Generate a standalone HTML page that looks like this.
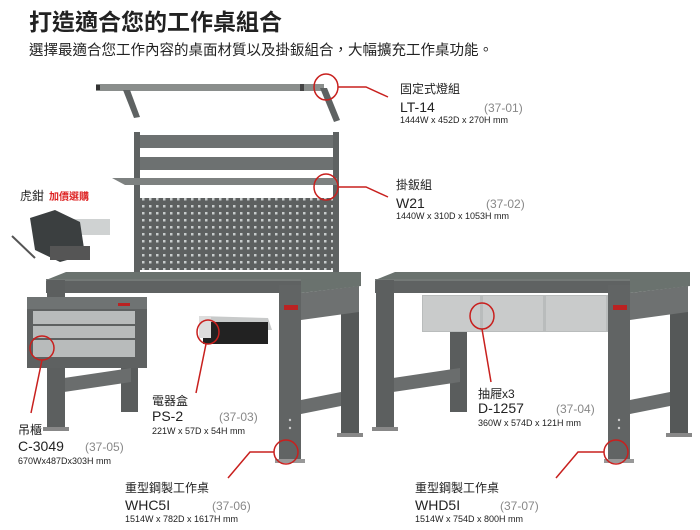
<!DOCTYPE html>
<html><head><meta charset="utf-8"><style>
html,body{margin:0;padding:0;background:#fff;width:700px;height:530px;overflow:hidden}
svg{display:block}
text{font-family:"Liberation Sans","Noto Sans CJK TC",sans-serif;fill:#222}
</style></head><body>
<svg width="700" height="530" viewBox="0 0 700 530" xmlns="http://www.w3.org/2000/svg">
<defs>
<pattern id="holes" x="0" y="0" width="7" height="7" patternUnits="userSpaceOnUse">
<rect width="7" height="7" fill="#5d6060"/><rect x="2" y="2" width="2.5" height="2.5" fill="#c8cccc"/>
</pattern>
<g id="bench">
 <!-- back right leg -->
 <rect x="670" y="300" width="18" height="137" fill="#555858"/>
 <rect x="666" y="433" width="26" height="4" fill="#888"/>
 <!-- back left leg -->
 <rect x="450" y="318" width="17" height="94" fill="#5a5d5d"/>
 <!-- stretchers -->
 <polygon points="393,378 460,368 460,382 393,392" fill="#6a6d6d"/>
 <polygon points="630,400 670,392 670,406 630,414" fill="#6a6d6d"/>
 <!-- side beam -->
 <polygon points="630,293 688,286 688,312 630,320" fill="#6e7171"/>
 <!-- top surface -->
 <polygon points="375,280 395,272 690,272 690,286 630,293 375,293" fill="#6a726e"/>
 <rect x="375" y="279" width="255" height="14" fill="#5f6262"/>
 <line x1="375" y1="280" x2="630" y2="280" stroke="#8a908c" stroke-width="1"/>
 <!-- front legs -->
 <rect x="376" y="280" width="18" height="150" fill="#5c5f5f"/>
 <rect x="372" y="427" width="26" height="4" fill="#888"/>
 <rect x="608" y="285" width="22" height="177" fill="#616464"/>
 <rect x="604" y="459" width="30" height="4" fill="#999"/>
 <rect x="613" y="305" width="14" height="5" fill="#b22"/>
 <circle cx="619" cy="420" r="1.2" fill="#ccc"/><circle cx="619" cy="428" r="1.2" fill="#ccc"/>
</g>
</defs>

<text x="29" y="30" font-size="23" font-weight="bold" fill="#222">打造適合您的工作桌組合</text>
<text x="29" y="55" font-size="14.5" fill="#333">選擇最適合您工作內容的桌面材質以及掛鈑組合，大幅擴充工作桌功能。</text>

<!-- light bar -->
<rect x="96" y="84" width="228" height="7" fill="#8a8e8c"/>
<rect x="96" y="85" width="4" height="5" fill="#333"/>
<rect x="300" y="84" width="4" height="7" fill="#444"/>
<polygon points="123,90 130,90 140,117 134,118" fill="#5e6262"/>
<polygon points="320,88 327,88 340,120 334,122" fill="#5e6262"/>

<!-- pegboard frame -->
<rect x="134" y="132" width="6" height="143" fill="#5e6262"/>
<rect x="333" y="132" width="6" height="143" fill="#5e6262"/>
<rect x="140" y="135" width="193" height="13" fill="#6d7171"/>
<rect x="140" y="157" width="193" height="13" fill="#6d7171"/>
<polygon points="112,178 337,178 337,185 125,185" fill="#7d8180"/>
<rect x="140" y="198" width="193" height="72" fill="url(#holes)"/>

<!-- left bench -->
<g transform="translate(-329,0)"><use href="#bench"/></g>
<!-- right bench -->
<use href="#bench"/>
<!-- drawers -->
<rect x="422" y="295" width="186" height="37" fill="#b9bcbc"/>
<rect x="423" y="296" width="57" height="35" fill="#c9cbcb"/>
<rect x="483" y="296" width="60" height="35" fill="#c9cbcb"/>
<rect x="546" y="296" width="60" height="35" fill="#c9cbcb"/>

<!-- cabinet -->
<rect x="27" y="297" width="120" height="71" fill="#5e6161"/>
<rect x="27" y="297" width="120" height="12" fill="#6f7373"/>
<rect x="33" y="311" width="102" height="13" fill="#b8bbbb"/>
<rect x="33" y="326" width="102" height="12" fill="#b8bbbb"/>
<rect x="33" y="340" width="102" height="17" fill="#b8bbbb"/>
<rect x="118" y="303" width="12" height="3" fill="#b22"/>

<!-- power strip -->
<polygon points="199,316 268,318 272,330 203,330" fill="#c8caca"/>
<rect x="203" y="322" width="65" height="22" fill="#222"/>
<rect x="199" y="316" width="12" height="22" fill="#ddd"/>

<!-- vise -->
<g>
<rect x="72" y="219" width="38" height="16" fill="#cfd2d2"/>
<polygon points="30,218 55,210 80,222 85,255 60,262 35,250" fill="#3b3f40"/>
<rect x="50" y="246" width="40" height="14" fill="#555"/>
<line x1="12" y1="236" x2="35" y2="258" stroke="#555" stroke-width="2"/>
</g>
<text x="20" y="200" font-size="12">虎鉗</text>
<text x="49" y="200" font-size="10" font-weight="bold" fill="#d22" style="fill:#d22">加價選購</text>

<!-- red callouts -->
<g fill="none" stroke="#c8201e" stroke-width="1.5">
<ellipse cx="326" cy="87" rx="12" ry="13"/><polyline points="338,87 366,87 388,97"/>
<ellipse cx="326" cy="187" rx="12" ry="13"/><polyline points="338,187 366,187 388,197"/>
<ellipse cx="42" cy="348" rx="12" ry="12"/><polyline points="42,360 31,413"/>
<ellipse cx="208" cy="332" rx="11" ry="12"/><polyline points="206,344 196,393"/>
<ellipse cx="482" cy="316" rx="12" ry="13"/><polyline points="482,329 491,382"/>
<ellipse cx="286" cy="452" rx="12" ry="12"/><polyline points="274,452 250,452 228,478"/>
<ellipse cx="616" cy="452" rx="12" ry="12"/><polyline points="604,452 578,452 556,478"/>
</g>

<!-- labels -->
<g font-size="12">
<text x="400" y="93">固定式燈組</text>
<text x="400" y="112" font-size="14">LT-14</text>
<text x="484" y="112" font-size="12" style="fill:#888">(37-01)</text>
<text x="400" y="123" font-size="9">1444W x 452D x 270H mm</text>

<text x="396" y="189">掛鈑組</text>
<text x="396" y="208" font-size="14">W21</text>
<text x="486" y="208" style="fill:#888">(37-02)</text>
<text x="396" y="219" font-size="9">1440W x 310D x 1053H mm</text>

<text x="18" y="434">吊櫃</text>
<text x="18" y="451" font-size="14">C-3049</text>
<text x="85" y="451" style="fill:#888">(37-05)</text>
<text x="18" y="464" font-size="9">670Wx487Dx303H mm</text>

<text x="152" y="405">電器盒</text>
<text x="152" y="421" font-size="14">PS-2</text>
<text x="219" y="421" style="fill:#888">(37-03)</text>
<text x="152" y="434" font-size="9">221W x 57D x 54H mm</text>

<text x="478" y="398">抽屜x3</text>
<text x="478" y="413" font-size="14">D-1257</text>
<text x="556" y="413" style="fill:#888">(37-04)</text>
<text x="478" y="426" font-size="9">360W x 574D x 121H mm</text>

<text x="125" y="492">重型鋼製工作桌</text>
<text x="125" y="510" font-size="14">WHC5I</text>
<text x="212" y="510" style="fill:#888">(37-06)</text>
<text x="125" y="522" font-size="9">1514W x 782D x 1617H mm</text>

<text x="415" y="492">重型鋼製工作桌</text>
<text x="415" y="510" font-size="14">WHD5I</text>
<text x="500" y="510" style="fill:#888">(37-07)</text>
<text x="415" y="522" font-size="9">1514W x 754D x 800H mm</text>
</g>
</svg>
</body></html>
